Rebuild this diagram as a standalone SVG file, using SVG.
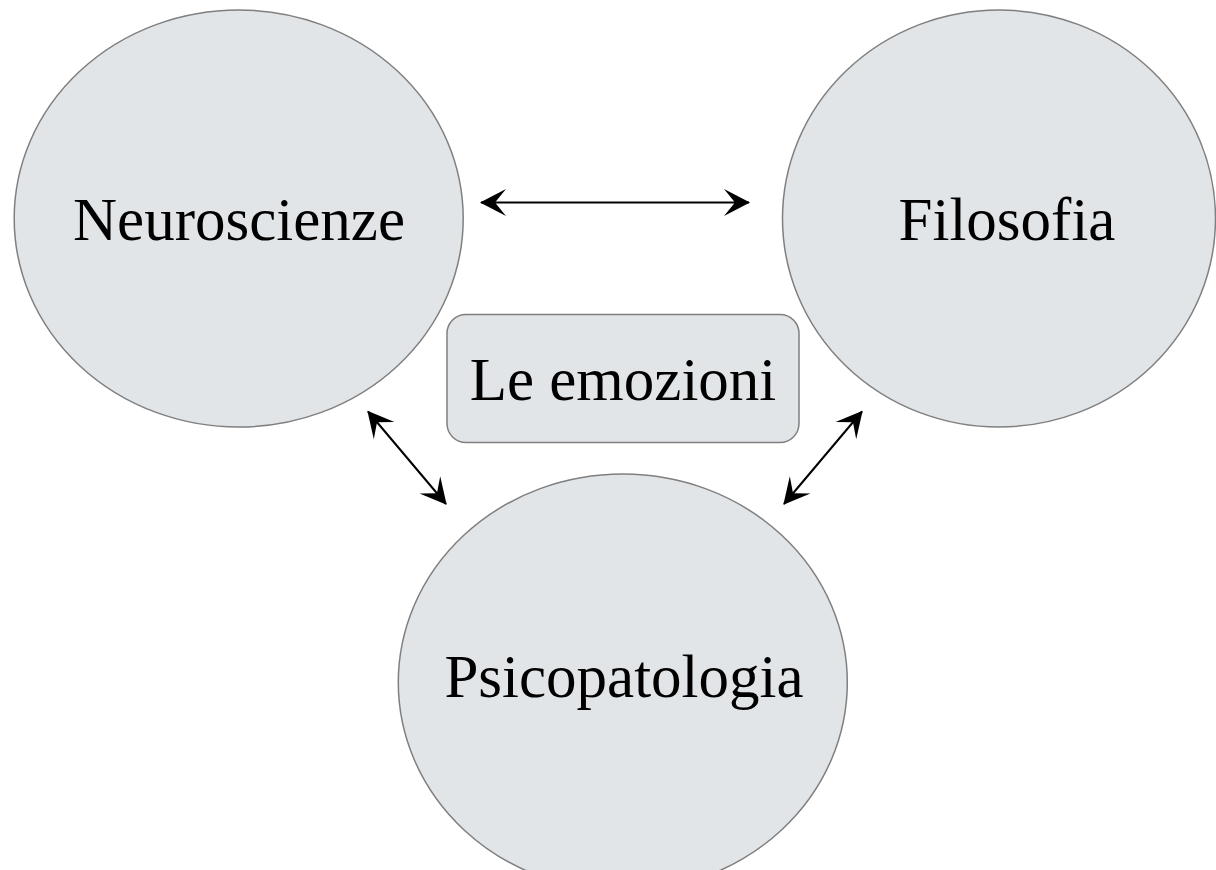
<svg xmlns="http://www.w3.org/2000/svg" width="1216" height="870" viewBox="0 0 1216 870">
  <style>
    .node { fill: #e2e5e8; stroke: #7f7f7f; stroke-width: 1.5; }
    .label { font-family: "Liberation Serif", "DejaVu Serif", serif; font-size: 61px; fill: #000000; text-anchor: middle; }
    .conn { stroke: #000000; stroke-width: 2; fill: none; marker-start: url(#arrow); marker-end: url(#arrow); }
  </style>
  <defs>
    <marker id="arrow" viewBox="-28 -15 30 30" refX="-1" refY="0" markerWidth="30" markerHeight="30" markerUnits="userSpaceOnUse" orient="auto-start-reverse">
      <path d="M0,0 L-26,-13.5 L-15,0 L-26,13.5 Z" fill="#000000"/>
    </marker>
  </defs>
  <rect width="1216" height="870" fill="#ffffff"/>
  <g id="connectors">
    <line class="conn" x1="481" y1="202.5" x2="749" y2="202.5"/>
    <line class="conn" x1="368" y1="411.5" x2="446" y2="504"/>
    <line class="conn" x1="862" y1="411.5" x2="784" y2="504"/>
  </g>
  <g id="node-neuroscienze">
    <ellipse class="node" cx="238.7" cy="218.5" rx="224.5" ry="208.5"/>
    <text class="label" x="239" y="240">Neuroscienze</text>
  </g>
  <g id="node-filosofia">
    <ellipse class="node" cx="999" cy="218.5" rx="216.5" ry="208.5"/>
    <text class="label" x="1007" y="240">Filosofia</text>
  </g>
  <g id="node-psicopatologia">
    <ellipse class="node" cx="622.8" cy="682.5" rx="224.5" ry="208.5"/>
    <text class="label" x="624" y="697">Psicopatologia</text>
  </g>
  <g id="node-emozioni">
    <rect class="node" x="447" y="314.5" width="352" height="128" rx="19" ry="19"/>
    <text class="label" x="623" y="400">Le emozioni</text>
  </g>
</svg>
